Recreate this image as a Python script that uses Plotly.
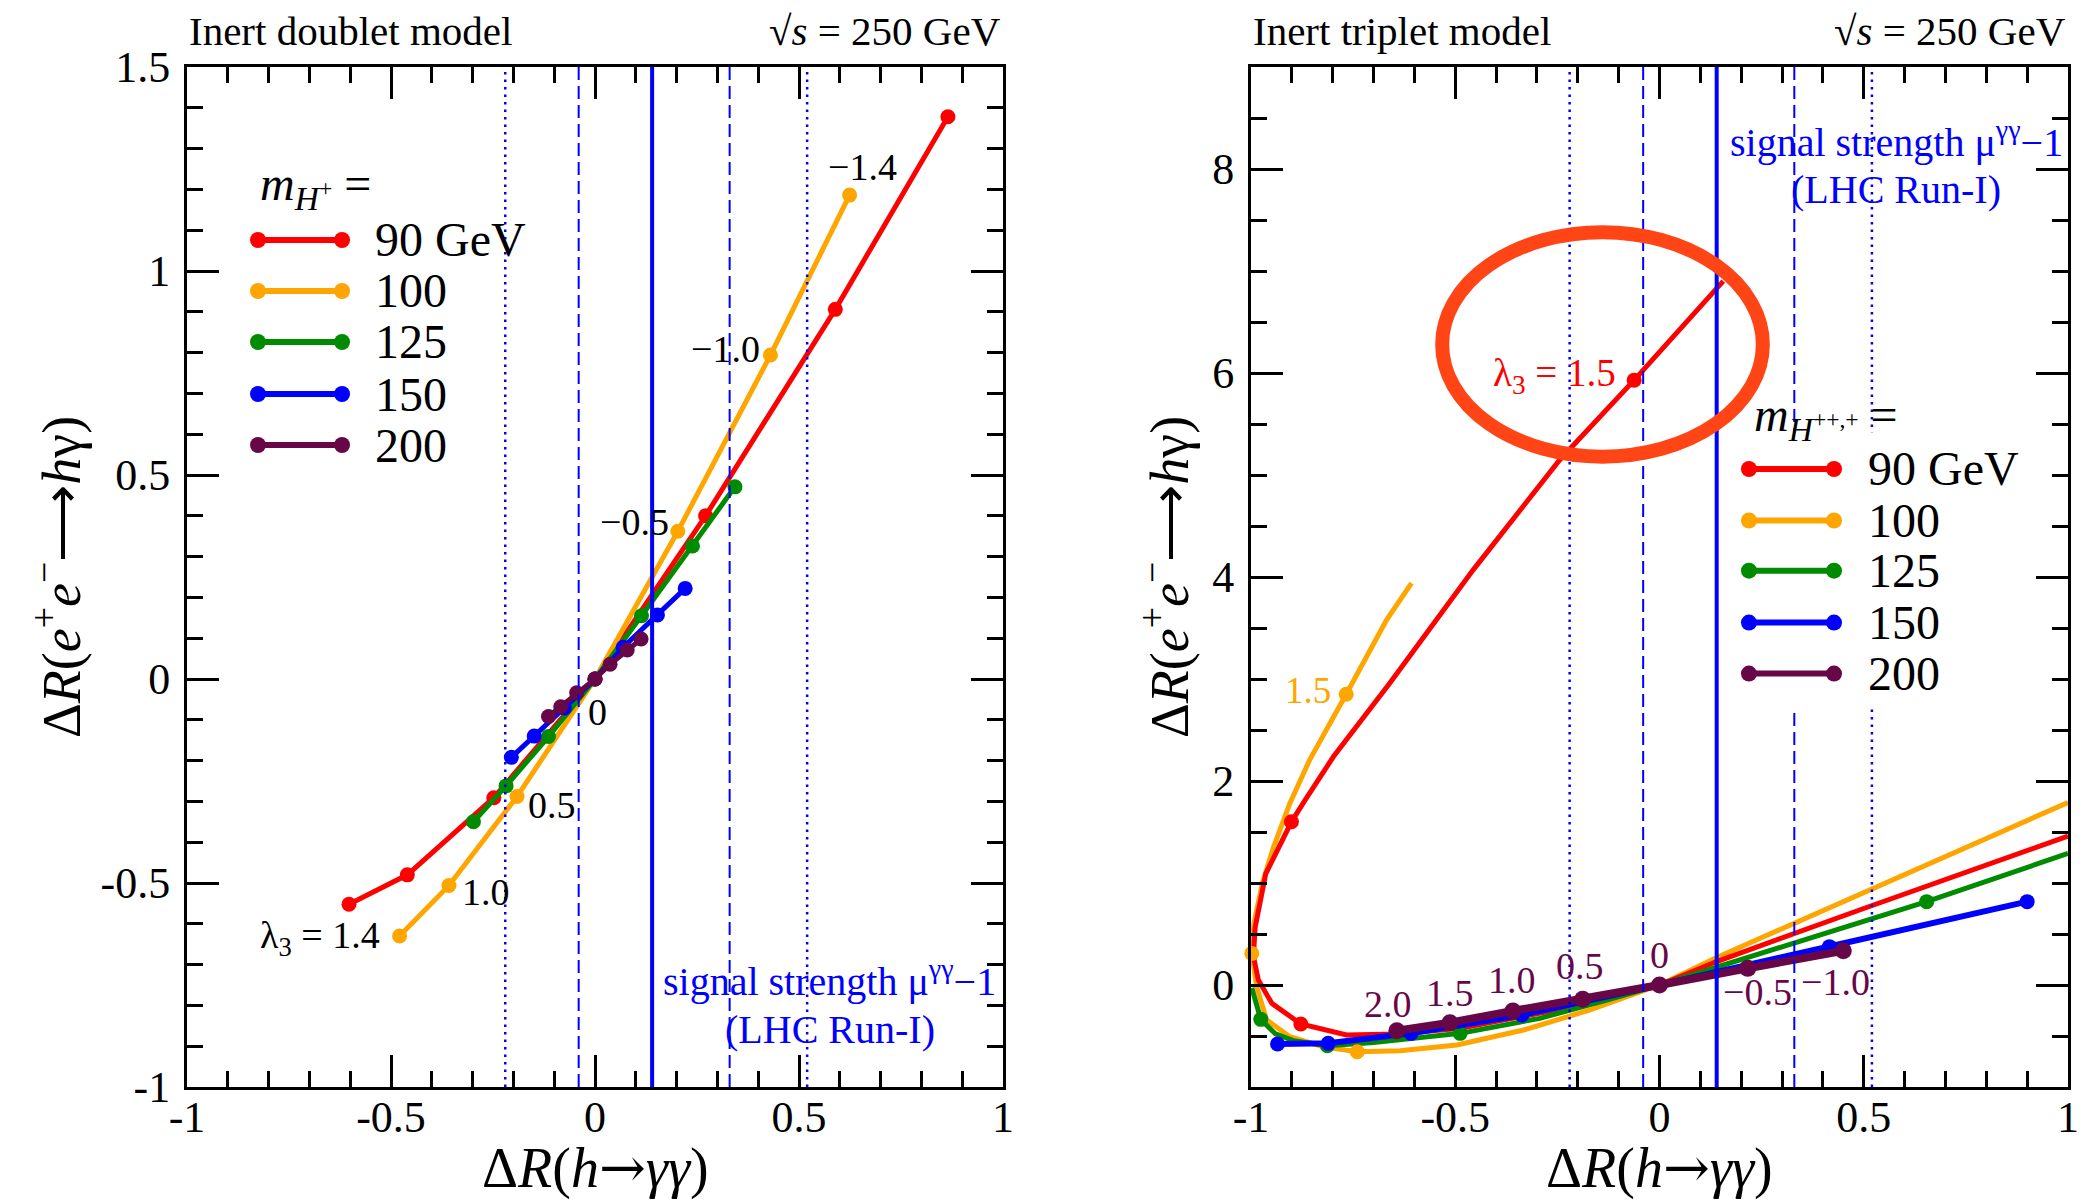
import plotly.graph_objects as go

W, H = 2092, 1201
FONT = "Liberation Serif, Times New Roman, serif"

# ---------------- data : left panel (inert doublet), lambda3 = 1.4, 1.0, 0.5, 0, -0.5, -1.0, -1.4
masses = ["90 GeV", "100", "125", "150", "200"]
colors = ["#FF0000", "#FFA500", "#008B00", "#0000FF", "#670748"]

d90_x = [-0.603, -0.460, -0.248, 0.0, 0.271, 0.589, 0.865]
d90_y = [-0.552, -0.480, -0.291, 0.0, 0.400, 0.906, 1.378]
d100_x = [-0.479, -0.358, -0.191, 0.0, 0.203, 0.430, 0.624]
d100_y = [-0.630, -0.506, -0.288, 0.0, 0.362, 0.794, 1.186]
d125_x = [-0.298, -0.218, -0.114, 0.0, 0.114, 0.239, 0.343]
d125_y = [-0.350, -0.262, -0.141, 0.0, 0.155, 0.326, 0.471]
d150_x = [-0.205, -0.149, -0.075, 0.0, 0.069, 0.153, 0.221]
d150_y = [-0.192, -0.140, -0.071, 0.0, 0.078, 0.157, 0.222]
d200_x = [-0.114, -0.084, -0.045, 0.0, 0.037, 0.079, 0.113]
d200_y = [-0.092, -0.068, -0.034, 0.0, 0.036, 0.071, 0.098]

# ---------------- data : right panel (inert triplet) curves
t90_x = [0.156, -0.062, -0.244, -0.456, -0.660, -0.798, -0.868, -0.901, -0.964, -0.990, -0.994,
         -0.982, -0.949, -0.878, -0.766, -0.643, -0.488, -0.211, 0.0, 0.14, 0.5, 1.0]
t90_y = [6.90, 5.93, 5.15, 4.07, 2.96, 2.24, 1.81, 1.60, 1.09, 0.56, 0.28,
         0.05, -0.18, -0.382, -0.49, -0.48, -0.425, -0.213, 0.0, 0.23, 0.75, 1.46]
t90_mx = [-0.062, -0.901, -0.878]
t90_my = [5.93, 1.60, -0.382]

t100_x = [-0.607, -0.668, -0.767, -0.856, -0.905, -0.945, -0.972, -0.993, -0.998, -0.986, -0.962,
          -0.905, -0.823, -0.740, -0.635, -0.496, -0.333, -0.170, 0.0, 0.14, 1.0]
t100_y = [3.94, 3.58, 2.85, 2.21, 1.78, 1.35, 1.00, 0.60, 0.31, -0.02, -0.34,
          -0.507, -0.605, -0.654, -0.644, -0.588, -0.441, -0.245, 0.0, 0.27, 1.79]
t100_mx = [-0.767, -0.998, -0.740]
t100_my = [2.85, 0.31, -0.654]

t125_x = [-0.998, -0.976, -0.940, -0.896, -0.813, -0.700, -0.488, -0.293, -0.129, 0.0, 0.654, 1.0]
t125_y = [-0.03, -0.337, -0.480, -0.546, -0.595, -0.565, -0.474, -0.327, -0.147, 0.0, 0.817, 1.29]
t125_mx = [-0.976, -0.813, -0.488, 0.654]
t125_my = [-0.337, -0.595, -0.474, 0.817]

t150_x = [-0.935, -0.811, -0.608, -0.337, 0.0, 0.416, 0.900]
t150_y = [-0.578, -0.572, -0.474, -0.294, 0.0, 0.376, 0.817]

t200_x = [-0.643, -0.513, -0.359, -0.188, 0.0, 0.216, 0.450]
t200_y = [-0.448, -0.369, -0.255, -0.140, 0.0, 0.163, 0.336]

# LHC Run-I signal strength mu_gg - 1 : central, 1 sigma, 2 sigma
mu_central = 0.14
mu_1sigma = [-0.04, 0.33]
mu_2sigma = [-0.22, 0.52]

# labels
x_ticks = [-1, -0.5, 0, 0.5, 1]
x_ticktext = ["-1", "-0.5", "0", "0.5", "1"]
yl_ticks = [-1, -0.5, 0, 0.5, 1, 1.5]
yl_ticktext = ["-1", "-0.5", "0", "0.5", "1", "1.5"]
yr_ticks = [0, 2, 4, 6, 8]
yr_ticktext = ["0", "2", "4", "6", "8"]

left_lambda_labels = [
    ("λ<sub>3</sub> = 1.4", -0.522, -0.635, "right"),
    ("1.0", -0.268, -0.521, "center"),
    ("0.5", -0.106, -0.310, "center"),
    ("0", 0.006, -0.082, "center"),
    ("−0.5", 0.097, 0.384, "center"),
    ("−1.0", 0.319, 0.809, "center"),
    ("−1.4", 0.655, 1.256, "center"),
]
right_lambda_labels = [
    ("2.0", -0.664, -0.186),
    ("1.5", -0.513, -0.08),
    ("1.0", -0.362, 0.05),
    ("0.5", -0.195, 0.186),
    ("0", 0.0, 0.294),
    ("−0.5", 0.239, -0.066),
    ("−1.0", 0.43, 0.03),
]

# ---------------- layout geometry (pixels of the 2092x1201 page)
LX = [187 / W, 1003 / W]
RX = [1251 / W, 2068 / W]
YD = [1 - 1087 / H, 1 - 67 / H]

fig = go.Figure()

LW, MS = 5, 15
left_series = [(d90_x, d90_y), (d100_x, d100_y), (d125_x, d125_y), (d150_x, d150_y), (d200_x, d200_y)]
for (xs, ys), col, nm in zip(left_series, colors, masses):
    fig.add_trace(go.Scatter(x=xs, y=ys, mode="lines+markers", name=nm,
                             line=dict(color=col, width=LW), marker=dict(color=col, size=MS),
                             xaxis="x", yaxis="y", showlegend=False))

right_lines = [(t100_x, t100_y, colors[1]), (t90_x, t90_y, colors[0]), (t125_x, t125_y, colors[2])]
for xs, ys, col in right_lines:
    fig.add_trace(go.Scatter(x=xs, y=ys, mode="lines", line=dict(color=col, width=5),
                             xaxis="x2", yaxis="y2", showlegend=False))
for xs, ys, col in [(t100_mx, t100_my, colors[1]), (t90_mx, t90_my, colors[0]), (t125_mx, t125_my, colors[2])]:
    fig.add_trace(go.Scatter(x=xs, y=ys, mode="markers", marker=dict(color=col, size=MS),
                             xaxis="x2", yaxis="y2", showlegend=False, cliponaxis=False))
fig.add_trace(go.Scatter(x=t150_x, y=t150_y, mode="lines+markers", line=dict(color=colors[3], width=6),
                         marker=dict(color=colors[3], size=MS), xaxis="x2", yaxis="y2",
                         showlegend=False, cliponaxis=False))
fig.add_trace(go.Scatter(x=t200_x, y=t200_y, mode="lines+markers", line=dict(color=colors[4], width=8),
                         marker=dict(color=colors[4], size=17), xaxis="x2", yaxis="y2",
                         showlegend=False, cliponaxis=False))


def axis(domain, rng, tv, tt, minor_dtick, anchor, standoff):
    return dict(domain=domain, range=rng, tickmode="array", tickvals=tv, ticktext=tt,
                ticks="inside", ticklen=32, tickwidth=2.5, tickcolor="black",
                showline=True, linecolor="black", linewidth=3, mirror="allticks",
                showgrid=False, zeroline=False, anchor=anchor, ticklabelstandoff=standoff,
                automargin=False,
                minor=dict(ticks="inside", ticklen=16, tickwidth=2.5, tickcolor="black",
                           tickmode="linear", tick0=rng[0], dtick=minor_dtick, showgrid=False),
                tickfont=dict(family="Liberation Serif", size=44, color="black"))


shapes = []
annotations = []

for xr, yr in [("x", "y domain"), ("x2", "y2 domain")]:
    shapes.append(dict(type="line", xref=xr, yref=yr, x0=mu_central, x1=mu_central, y0=0, y1=1,
                       line=dict(color="#0000FF", width=4), layer="above"))
    for v in mu_1sigma:
        shapes.append(dict(type="line", xref=xr, yref=yr, x0=v, x1=v, y0=0, y1=1,
                           line=dict(color="#0000FF", width=2, dash="13px,6px"), layer="above"))
    for v in mu_2sigma:
        shapes.append(dict(type="line", xref=xr, yref=yr, x0=v, x1=v, y0=0, y1=1,
                           line=dict(color="#0000FF", width=2.5, dash="2.5px,5px"), layer="above"))

# white box behind right legend
shapes.append(dict(type="rect", xref="x2 domain", yref="y2 domain", x0=0.5765, x1=0.9535, y0=0.3716, y1=0.642,
                   fillcolor="white", line=dict(width=0), layer="above"))

# hand-drawn highlight ellipse
shapes.append(dict(type="circle", xref="x2", yref="y2", x0=-0.532, x1=0.253, y0=5.18, y1=7.38,
                   line=dict(color="#FF4516", width=14), layer="above"))


def legend(xref, yref, x0, x1, xt, ys, title, ty, tx):
    for col, nm, yy in zip(colors, masses, ys):
        shapes.append(dict(type="line", xref=xref, yref=yref, x0=x0, x1=x1, y0=yy, y1=yy,
                           line=dict(color=col, width=6), layer="above"))
        for xx in (x0, x1):
            shapes.append(dict(type="circle", xref=xref, yref=yref, xsizemode="pixel", ysizemode="pixel",
                               xanchor=xx, yanchor=yy, x0=-8, x1=8, y0=-8, y1=8,
                               fillcolor=col, line=dict(width=0), layer="above"))
        annotations.append(dict(xref=xref, yref=yref, x=xt, y=yy, text=nm, showarrow=False,
                                xanchor="left", yanchor="middle", font=dict(family=FONT, size=48, color="black")))
    annotations.append(dict(xref=xref, yref=yref, x=tx, y=ty, text=title, showarrow=False,
                            xanchor="left", yanchor="middle", font=dict(family=FONT, size=48, color="black")))


legend("x domain", "y domain", 0.087, 0.190, 0.228, [0.8304, 0.7804, 0.7304, 0.6794, 0.6294],
       "<i>m</i><sub><i>H</i><sup>+</sup></sub> =", 0.882, 0.087)
legend("x2 domain", "y2 domain", 0.6095, 0.7136, 0.7528, [0.6059, 0.5554, 0.5062, 0.4553, 0.4053],
       "<i>m</i><sub><i>H</i><sup>++,+</sup></sub> =", 0.656, 0.6132)

# lambda labels
for txt, xx, yy, anc in left_lambda_labels:
    annotations.append(dict(xref="x", yref="y", x=xx, y=yy, text=txt, showarrow=False, xanchor=anc,
                            yanchor="middle", font=dict(family=FONT, size=38, color="black")))
for txt, xx, yy in right_lambda_labels:
    annotations.append(dict(xref="x2", yref="y2", x=xx, y=yy, text=txt, showarrow=False,
                            font=dict(family=FONT, size=38, color=colors[4])))
annotations.append(dict(xref="x2", yref="y2", x=-0.86, y=2.89, text="1.5", showarrow=False,
                        font=dict(family=FONT, size=37, color=colors[1])))
annotations.append(dict(xref="x2", yref="y2", x=-0.101, y=5.98, text="λ<sub>3</sub> = 1.5", showarrow=False,
                        xanchor="right", font=dict(family=FONT, size=39, color=colors[0])))

# signal strength texts
for xr, yr, xx, y1, y2 in [("x", "y", 0.575, -0.735, -0.860), ("x2", "y2", 0.579, 8.29, 7.80)]:
    annotations.append(dict(xref=xr, yref=yr, x=xx, y=y1, text="signal strength μ<sup>γγ</sup>−1",
                            showarrow=False, font=dict(family=FONT, size=40, color="#0000FF")))
    annotations.append(dict(xref=xr, yref=yr, x=xx, y=y2, text="(LHC Run-I)",
                            showarrow=False, font=dict(family=FONT, size=40, color="#0000FF")))

# panel headers
ty = 1 - 31 / H
for x0, x1, name in [(LX[0], LX[1], "Inert doublet model"), (RX[0], RX[1], "Inert triplet model")]:
    annotations.append(dict(xref="paper", yref="paper", x=x0, y=ty, text=name, showarrow=False,
                            xanchor="left", yanchor="middle", font=dict(family=FONT, size=41, color="black")))
    annotations.append(dict(xref="paper", yref="paper", x=x1, y=ty, text="√<i>s</i> = 250 GeV", showarrow=False,
                            xanchor="right", yanchor="middle", font=dict(family=FONT, size=41, color="black")))

# axis titles
ARROW = "<span style=\"font-family:'DejaVu Serif'\">→</span>"
ymid = 1 - 577 / H
ytitle = "Δ<i>R</i>(<i>e</i><sup>+</sup><i>e</i><sup>−</sup>⟶<i>h</i>γ)"
xtitle = "Δ<i>R</i>(<i>h</i>" + ARROW + "<i>γγ</i>)"
for xpix in (58, 1166):
    annotations.append(dict(xref="paper", yref="paper", x=xpix / W, y=ymid, text=ytitle, textangle=-90,
                            showarrow=False, xanchor="center", yanchor="middle",
                            font=dict(family=FONT, size=54, color="black")))
for xpix in (595, 1659.5):
    annotations.append(dict(xref="paper", yref="paper", x=xpix / W, y=0.0, text=xtitle,
                            showarrow=False, xanchor="center", yanchor="bottom", borderpad=0,
                            font=dict(family=FONT, size=56, color="black")))

fig.update_layout(
    width=W, height=H, margin=dict(l=0, r=0, t=0, b=0, pad=0, autoexpand=False),
    paper_bgcolor="white", plot_bgcolor="white", showlegend=False,
    font=dict(family=FONT, color="black"),
    xaxis=axis(LX, [-1, 1], x_ticks, x_ticktext, 0.1, "y", -11),
    yaxis=axis(YD, [-1, 1.5], yl_ticks, yl_ticktext, 0.1, "x", 5),
    xaxis2=axis(RX, [-1, 1], x_ticks, x_ticktext, 0.1, "y2", -11),
    yaxis2=axis(YD, [-1, 9], yr_ticks, yr_ticktext, 0.5, "x2", 5),
    shapes=shapes, annotations=annotations,
)

fig.write_html("out.html")
